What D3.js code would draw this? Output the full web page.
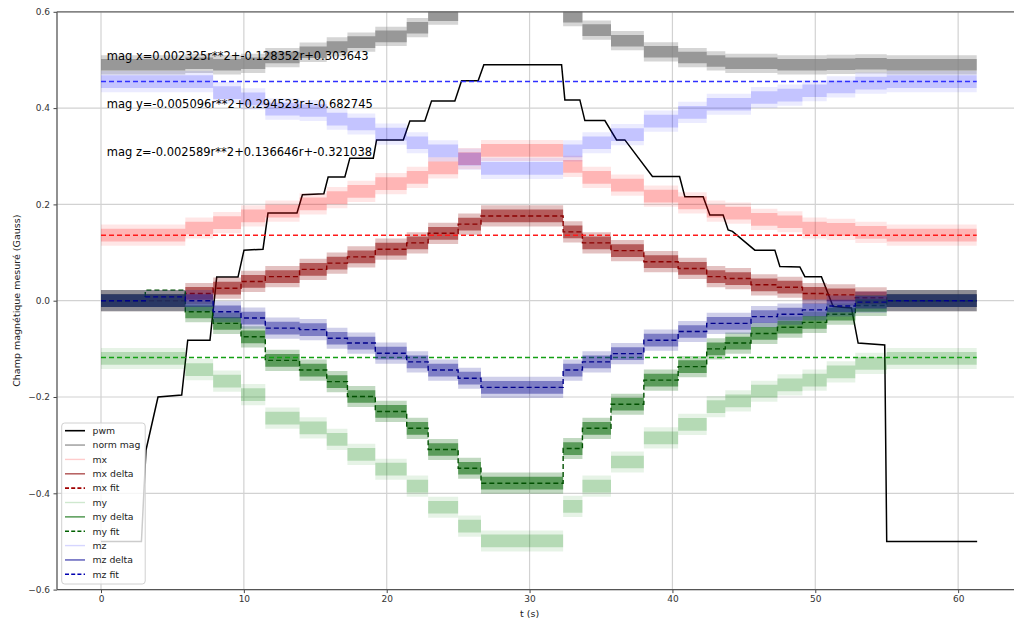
<!DOCTYPE html>
<html><head><meta charset="utf-8">
<script src="https://cdn.jsdelivr.net/npm/d3@7"></script>
<style>body{margin:0;background:#fff}svg{display:block}text{font-family:"DejaVu Sans",sans-serif}</style>
</head><body><svg id="c" width="1014" height="621"></svg>
<script>
// ---------------- data ----------------
const xTicks = [0, 10, 20, 30, 40, 50, 60];
const xTickLabels = ["0", "10", "20", "30", "40", "50", "60"];
const yTicks = [-0.6, -0.4, -0.2, 0.0, 0.2, 0.4, 0.6];
const yTickLabels = ["\u22120.6", "\u22120.4", "\u22120.2", "0.0", "0.2", "0.4", "0.6"];

const pwmTime = [0, 2.83, 3.15, 3.99, 5.65, 6.07, 7.63, 8.10, 9.59, 10.01, 11.34, 11.69, 13.72, 14.1, 15.6, 15.9, 17.07, 17.42, 19.06, 19.29, 21.16, 21.62, 22.67, 23.14, 24.77, 25.24, 26.40, 26.80, 32.24, 32.47, 33.52, 33.87, 35.27, 36.09, 36.67, 38.6, 40.5, 40.87, 42.15, 42.62, 43.55, 43.9, 44.2, 45.77, 47.17, 47.52, 48.92, 49.27, 50.43, 51.25, 52.53, 53.0, 54.86, 55.0, 61.33];
const pwmValue = [-0.5, -0.5, -0.31, -0.20, -0.196, -0.082, -0.082, 0.049, 0.049, 0.105, 0.107, 0.182, 0.182, 0.22, 0.222, 0.257, 0.257, 0.296, 0.296, 0.334, 0.334, 0.373, 0.373, 0.415, 0.415, 0.457, 0.457, 0.49, 0.49, 0.417, 0.417, 0.374, 0.374, 0.334, 0.334, 0.258, 0.258, 0.216, 0.216, 0.178, 0.178, 0.147, 0.144, 0.105, 0.105, 0.071, 0.070, 0.050, 0.050, -0.012, -0.015, -0.088, -0.092, -0.5, -0.5];

// step boundaries (s) of the field measurements
const segmentBounds = [0, 3.1, 5.9, 7.85, 9.8, 11.5, 13.9, 15.8, 17.25, 19.2, 21.4, 22.9, 25.0, 26.6, 32.35, 33.7, 35.7, 38.0, 40.4, 42.4, 43.7, 45.5, 47.35, 49.1, 50.8, 52.8, 55.0, 61.3];

const normMag = [0.49, 0.49, 0.493, 0.49, 0.493, 0.505, 0.516, 0.527, 0.537, 0.549, 0.567, 0.593, 0.626, 0.65, 0.59, 0.562, 0.54, 0.517, 0.505, 0.498, 0.493, 0.493, 0.49, 0.49, 0.491, 0.492, 0.49];

const mx      = [0.136, 0.136, 0.151, 0.162, 0.176, 0.186, 0.201, 0.214, 0.227, 0.243, 0.256, 0.276, 0.295, 0.312, 0.279, 0.256, 0.24, 0.217, 0.203, 0.186, 0.182, 0.169, 0.164, 0.151, 0.148, 0.142, 0.136];
const mxDelta = [0, 0, 0.015, 0.026, 0.040, 0.05, 0.065, 0.078, 0.091, 0.107, 0.12, 0.14, 0.159, 0.176, 0.143, 0.12, 0.104, 0.081, 0.067, 0.05, 0.046, 0.033, 0.028, 0.015, 0.012, 0.006, 0];
const mxFit   = [0, 0, 0.015, 0.026, 0.040, 0.05, 0.065, 0.078, 0.091, 0.107, 0.12, 0.14, 0.159, 0.176, 0.143, 0.12, 0.104, 0.081, 0.067, 0.05, 0.046, 0.033, 0.028, 0.015, 0.012, 0.006, 0];

const my      = [-0.12, -0.12, -0.143, -0.167, -0.195, -0.244, -0.264, -0.288, -0.319, -0.35, -0.385, -0.429, -0.468, -0.499, -0.427, -0.385, -0.335, -0.285, -0.257, -0.22, -0.208, -0.188, -0.175, -0.165, -0.148, -0.13, -0.12];
const myDelta = [0, 0, -0.023, -0.047, -0.075, -0.124, -0.144, -0.168, -0.199, -0.23, -0.265, -0.309, -0.348, -0.379, -0.307, -0.265, -0.215, -0.165, -0.137, -0.10, -0.088, -0.068, -0.055, -0.045, -0.028, -0.01, 0];
const myFit   = [0, 0.022, -0.023, -0.047, -0.075, -0.124, -0.144, -0.168, -0.199, -0.23, -0.265, -0.309, -0.348, -0.379, -0.307, -0.265, -0.215, -0.165, -0.137, -0.10, -0.088, -0.068, -0.055, -0.045, -0.028, -0.01, 0];

const mz      = [0.455, 0.455, 0.455, 0.432, 0.419, 0.398, 0.395, 0.377, 0.367, 0.346, 0.328, 0.311, 0.294, 0.275, 0.311, 0.328, 0.345, 0.373, 0.391, 0.408, 0.408, 0.422, 0.427, 0.436, 0.444, 0.452, 0.455];
const mzDelta = [0, 0, 0, -0.023, -0.036, -0.057, -0.06, -0.078, -0.088, -0.109, -0.127, -0.144, -0.161, -0.18, -0.144, -0.127, -0.11, -0.082, -0.064, -0.047, -0.047, -0.033, -0.028, -0.019, -0.011, -0.003, 0];
const mzFit   = [0, 0.008, 0, -0.023, -0.036, -0.057, -0.06, -0.078, -0.088, -0.109, -0.127, -0.144, -0.161, -0.18, -0.144, -0.127, -0.11, -0.082, -0.064, -0.047, -0.047, -0.033, -0.028, -0.019, -0.011, -0.003, 0];

// constant offsets (dashed horizontal lines)
const offsetMx = 0.136, offsetMy = -0.118, offsetMz = 0.455;
const noiseSpread = 0.022;

const legendLabels = ["pwm", "norm mag", "mx", "mx delta", "mx fit", "my", "my delta", "my fit", "mz", "mz delta", "mz fit"];
const fitLabels = ["mag x=0.002325r**2+-0.128352r+0.303643", "mag y=-0.005096r**2+0.294523r+-0.682745", "mag z=-0.002589r**2+0.136646r+-0.321038"];
const fitLabelValue = [0.5, 0.4, 0.3];
const fitLabelTime = 0.4;

// ---------------- drawing ----------------
const W = 1014, H = 621;
const L = 57, R = 1021, T = 11.8, B = 589.6;
const x = d3.scaleLinear().domain([-3.08, 64.4]).range([L, R]);
const y = d3.scaleLinear().domain([-0.6, 0.6]).range([B, T]);
const svg = d3.select("#c");
svg.append("rect").attr("width", W).attr("height", H).attr("fill", "#fff");
svg.append("defs").append("clipPath").attr("id", "clip")
  .append("rect").attr("x", L).attr("y", T).attr("width", R - L).attr("height", B - T);

// grid
const grid = svg.append("g");
grid.selectAll(".gx").data(xTicks).enter().append("line")
  .attr("x1", d => x(d)).attr("x2", d => x(d)).attr("y1", T).attr("y2", B)
  .attr("stroke", "#d2d2d2").attr("stroke-width", 1.2);
grid.selectAll(".gy").data(yTicks).enter().append("line")
  .attr("x1", L).attr("x2", R).attr("y1", d => y(d)).attr("y2", d => y(d))
  .attr("stroke", "#d2d2d2").attr("stroke-width", 1.2);

const plot = svg.append("g").attr("clip-path", "url(#clip)");

function stepPts(vals) {
  const p = vals.map((v, i) => [segmentBounds[i], v]);
  p.push([segmentBounds[vals.length], vals[vals.length - 1]]);
  return p;
}
function band(vals, color, opacity, spread) {
  const pts = stepPts(vals);
  const outer = d3.area().x(d => x(d[0])).y0(d => y(d[1] - spread)).y1(d => y(d[1] + spread)).curve(d3.curveStepAfter);
  const inner = d3.area().x(d => x(d[0])).y0(d => y(d[1] - spread * 0.6)).y1(d => y(d[1] + spread * 0.6)).curve(d3.curveStepAfter);
  plot.append("path").attr("d", outer(pts)).attr("fill", color).attr("fill-opacity", opacity * 0.35);
  plot.append("path").attr("d", inner(pts)).attr("fill", color).attr("fill-opacity", opacity * 0.75);
}
function stepLine(vals, color, width, dash) {
  const ln = d3.line().x(d => x(d[0])).y(d => y(d[1])).curve(d3.curveStepAfter);
  const p = plot.append("path").attr("d", ln(stepPts(vals))).attr("fill", "none")
    .attr("stroke", color).attr("stroke-width", width);
  if (dash) p.attr("stroke-dasharray", dash);
}
function hLine(v, color) {
  const ln = d3.line().x(d => x(d[0])).y(d => y(d[1]));
  plot.append("path").attr("d", ln([[segmentBounds[0], v], [segmentBounds[segmentBounds.length - 1], v]]))
    .attr("fill", "none").attr("stroke", color).attr("stroke-width", 1.5).attr("stroke-dasharray", "5,3");
}

// pwm
const pwmLine = d3.line().x(d => x(d[0])).y(d => y(d[1]));
plot.append("path").attr("d", pwmLine(pwmTime.map((t, i) => [t, pwmValue[i]])))
  .attr("fill", "none").attr("stroke", "#000").attr("stroke-width", 1.5);

band(normMag, "#808080", 0.95, 0.02);
band(mx, "#ff0000", 0.28, noiseSpread);
band(mxDelta, "#8b0000", 0.7, noiseSpread);
stepLine(mxFit, "#8b0000", 1.4, "5,3");
hLine(offsetMx, "#ff1a1a");
band(my, "#008000", 0.28, noiseSpread);
band(myDelta, "#006400", 0.7, noiseSpread);
stepLine(myFit, "#005000", 1.4, "5,3");
hLine(offsetMy, "#14a014");
band(mz, "#0000ff", 0.22, noiseSpread);
band(mzDelta, "#1a1a9a", 0.6, noiseSpread);
stepLine(mzFit, "#00008b", 1.4, "5,3");
hLine(offsetMz, "#3030ff");

// fit annotations
svg.selectAll(".fitlab").data(fitLabels).enter().append("text")
  .attr("x", x(fitLabelTime)).attr("y", (d, i) => y(fitLabelValue[i]))
  .attr("font-size", "11.5px").attr("fill", "#000").text(d => d);

// axes
const yAxis = d3.axisLeft(y).tickValues(yTicks).tickFormat((d, i) => yTickLabels[i]).tickSize(3.5).tickPadding(3.5);
const xAxis = d3.axisBottom(x).tickValues(xTicks).tickFormat((d, i) => xTickLabels[i]).tickSize(3.5).tickPadding(3);
const gy = svg.append("g").attr("transform", `translate(${L},0)`).call(yAxis);
const gx = svg.append("g").attr("transform", `translate(0,${B})`).call(xAxis);
[gx, gy].forEach(g => {
  g.select(".domain").remove();
  g.selectAll(".tick line").attr("stroke", "#444").attr("stroke-width", 1);
  g.selectAll(".tick text").attr("font-size", "9px").attr("fill", "#333").attr("font-family", "DejaVu Sans");
});
// spines
svg.append("line").attr("x1", L).attr("x2", L).attr("y1", T).attr("y2", B).attr("stroke", "#555").attr("stroke-width", 1.3);
svg.append("line").attr("x1", L).attr("x2", R).attr("y1", B).attr("y2", B).attr("stroke", "#555").attr("stroke-width", 1.3);
svg.append("line").attr("x1", L).attr("x2", R).attr("y1", T).attr("y2", T).attr("stroke", "#666").attr("stroke-width", 1.2);

svg.append("text").attr("x", x(30)).attr("y", 617).attr("text-anchor", "middle")
  .attr("font-size", "9.5px").attr("fill", "#222").text("t (s)");
svg.append("text").attr("transform", `translate(20,${(T + B) / 2}) rotate(-90)`).attr("text-anchor", "middle")
  .attr("font-size", "9.5px").attr("fill", "#222").text("Champ magnétique mesuré (Gauss)");

// legend
const lg = svg.append("g");
lg.append("rect").attr("x", 61.7).attr("y", 423).attr("width", 83.5).attr("height", 161)
  .attr("rx", 3).attr("fill", "#fff").attr("fill-opacity", 0.8).attr("stroke", "#d0d0d0").attr("stroke-width", 1);
const legendStyle = [
  {c: "#000", w: 1.6, d: null},
  {c: "#a6a6a6", w: 1.6, d: null},
  {c: "#ffcccc", w: 1.4, d: null},
  {c: "#b86464", w: 1.6, d: null},
  {c: "#a00000", w: 1.6, d: "4,2.2"},
  {c: "#cfe8cf", w: 1.4, d: null},
  {c: "#5fa05f", w: 1.6, d: null},
  {c: "#006000", w: 1.6, d: "4,2.2"},
  {c: "#d6d6ff", w: 1.4, d: null},
  {c: "#6a6ac0", w: 1.6, d: null},
  {c: "#0000b0", w: 1.6, d: "4,2.2"}
];
legendLabels.forEach((lab, i) => {
  const yy = 430.7 + i * 14.36;
  const s = legendStyle[i];
  const l = lg.append("line").attr("x1", 65).attr("x2", 85).attr("y1", yy).attr("y2", yy)
    .attr("stroke", s.c).attr("stroke-width", s.w);
  if (s.d) l.attr("stroke-dasharray", s.d);
  lg.append("text").attr("x", 92.5).attr("y", yy + 3.3).attr("font-size", "9.3px").attr("fill", "#222").text(lab);
});
</script></body></html>
